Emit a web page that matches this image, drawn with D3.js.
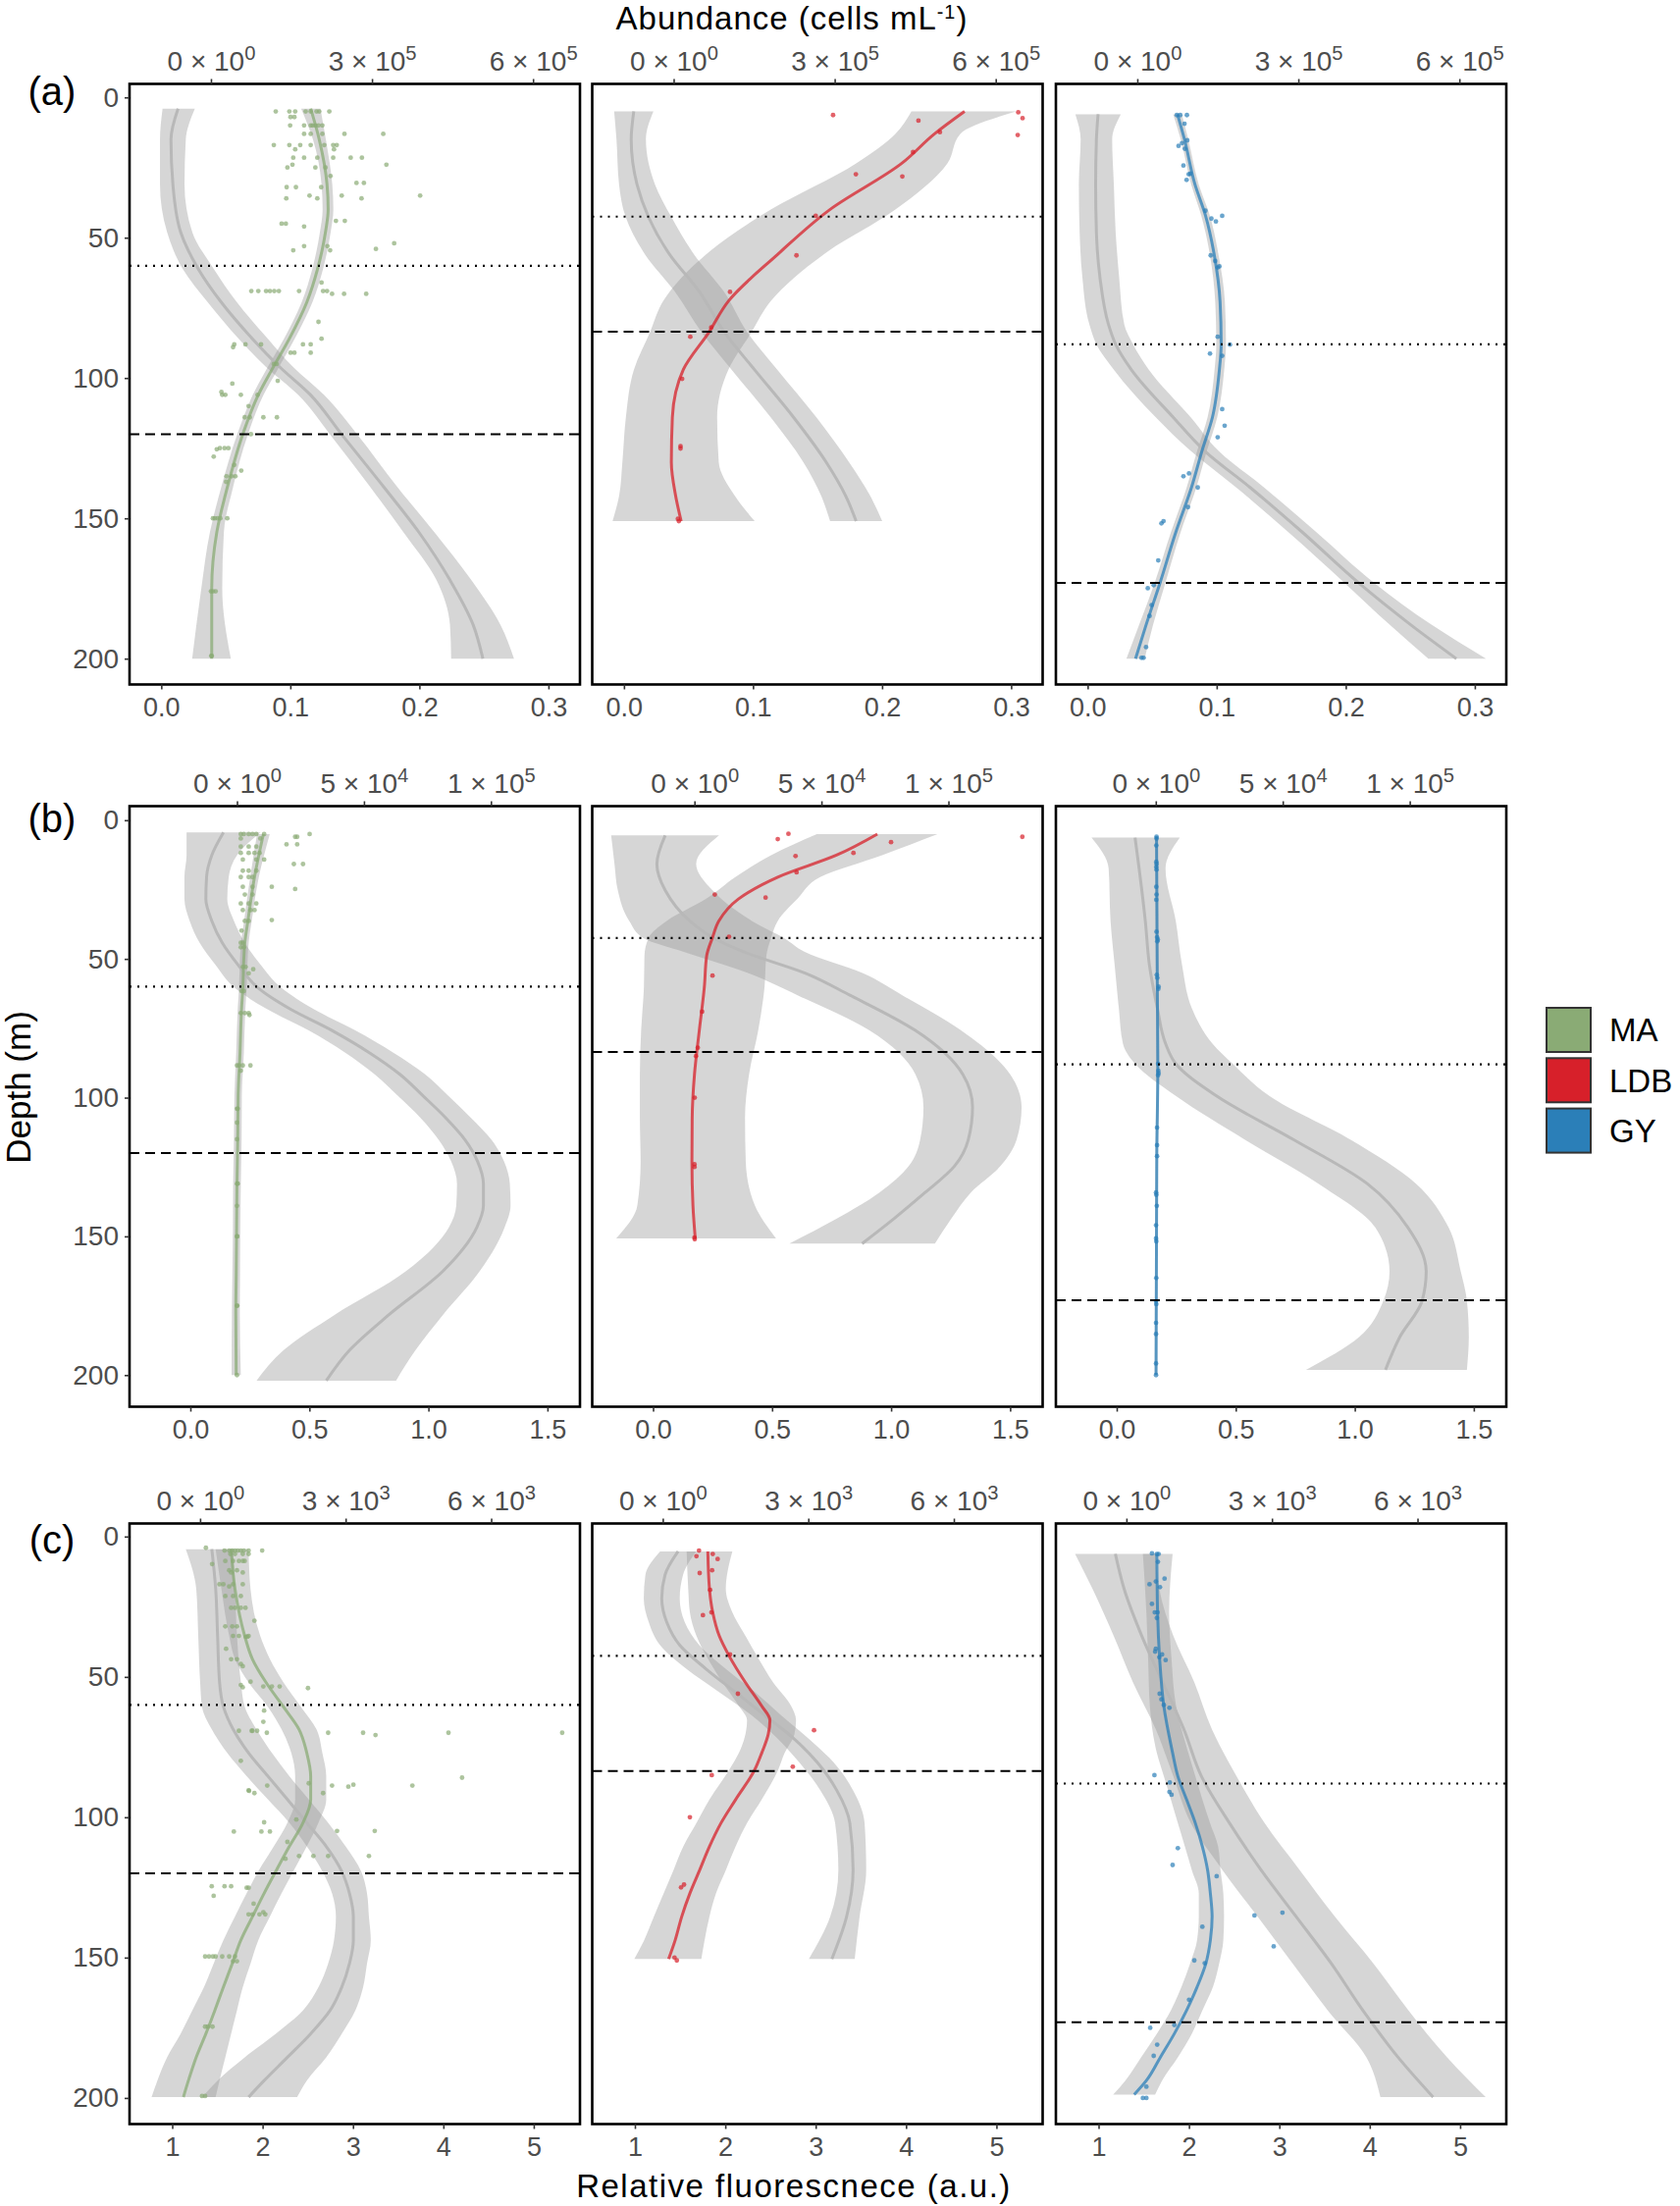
<!DOCTYPE html>
<html>
<head>
<meta charset="utf-8">
<script src="https://cdn.jsdelivr.net/npm/d3@7"></script>
<style>
body { margin: 0; background: #fff; }
svg text { font-family: "Liberation Sans", Arial, Helvetica, sans-serif; }
</style>
</head>
<body>
<svg id="fig" width="1712" height="2248"></svg>
<script>
// sites (columns) and their colours
var sites = ["MA", "LDB", "GY"];
var siteColor = { MA: "#8aab75", LDB: "#d7202a", GY: "#2b7fb8" };
var rowLabels = ["(a)", "(b)", "(c)"];

// horizontal reference depths (m) per site
var dottedDepth = { MA: 60, LDB: 42.5, GY: 88 };
var dashedDepth = { MA: 120, LDB: 83.5, GY: 173 };

// axis ticks per row
var depthTicks = [0, 50, 100, 150, 200];
var flTicks = [[0, 0.1, 0.2, 0.3], [0, 0.5, 1, 1.5], [1, 2, 3, 4, 5]];
var abTicks = [[0, 3e5, 6e5], [0, 5e4, 1e5], [0, 3e3, 6e3]];

// axis limits (as plotted): depth and fluorescence per row, abundance per row and column
var depthLim = [[-4.8, 209.2], [-5.06, 211.4], [-4.65, 209.3]];
var flLim = [[-0.0246, 0.3244], [-0.2556, 1.6365], [0.5277, 5.511]];
var abLim = [
  [[-151700, 687400], [-151700, 687400], [-151700, 687400]],
  [[-42311, 135046], [-40263, 137094], [-39335, 138022]],
  [[-1454, 7830], [-1454, 7830], [-1454, 7830]]
];

// smooths: [depth, lower, fit, upper]; fl = relative fluorescence, ab = abundance
// points: [depth, abundance]

// ---- row (a) ----
var aMA_fl = [[4,0.001,0.013,0.026],[15,-0.001,0.0075,0.019],[31,-0.001,0.009,0.018],[48,0.0045,0.015,0.024],
  [61,0.0165,0.0285,0.0405],[73,0.036,0.0465,0.0586],[86,0.060,0.0706,0.0826],[96,0.081,0.0916,0.102],
  [106,0.106,0.1156,0.126],[120,0.1306,0.1396,0.1517],[139,0.1622,0.1727,0.1832],[155,0.1877,0.1997,0.2117],
  [172,0.2132,0.2237,0.2402],[188,0.2237,0.2417,0.2628],[200,0.2246,0.2492,0.2733]];
var aMA_ab = [[4,168e3,185.8e3,204e3],[15,190e3,201.7e3,214e3],[31,206e3,216.2e3,226e3],[40,208e3,218.3e3,228e3],
  [48,203e3,213.3e3,223e3],[61,189e3,198.8e3,209e3],[73,169e3,178.6e3,189e3],[86,136e3,146e3,156e3],
  [97,103e3,113.5e3,124e3],[106,78e3,88.2e3,98e3],[120,49e3,59.3e3,69e3],[139,19e3,30.4e3,41e3],
  [155,-2e3,10.8e3,24e3],[175,-18e3,1.4e3,21e3],[200,-35e3,1.4e3,37e3]];
var aMA_pts = [[5,120.7e3],[5,146e3],[5,156.9e3],[5,176.4e3],[5,185.8e3],[5,196.7e3],[5,201.7e3],[5,220.5e3],
  [7,148.2e3],[7,155.4e3],[10,147.5e3],[10,173.5e3],[10,189.4e3],[10,200.3e3],[10,207.5e3],[10,185.8e3],[10,194.5e3],
  [13,173.5e3],[13,185.8e3],[13,207.5e3],[13,248.7e3],[13,321e3],
  [17,117.1e3],[17,146e3],[17,166.3e3],[17,185.8e3],[17,211.1e3],[17,227.7e3],[17,234.3e3],
  [18.5,156.9e3],[18.5,229.2e3],[21.5,153.3e3],[21.5,173.5e3],[21.5,198.1e3],[21.5,227.7e3],[21.5,260.3e3],[21.5,281.2e3],
  [24,151.8e3],[24,326.8e3],[25,142.4e3],[25,194.5e3],[25,213.3e3],[28,222.7e3],[30.5,271.1e3],[30.5,284.9e3],
  [32,141e3],[32,158.3e3],[32,205.3e3],[35,183.6e3],[35,243.6e3],[35,389.7e3],[36,140.3e3],[36,198.1e3],[36,280.5e3],
  [44,232.8e3],[44,249.4e3],[45,131.6e3],[45,139.5e3],[46,173.5e3],[52,341.3e3],[53,173.5e3],[53,216.9e3],
  [54,307.3e3],[54.5,153.3e3],[54.5,222e3],[66,206e3],
  [69,75.2e3],[69,88.2e3],[69,102.7e3],[69,109.9e3],[69,118e3],[69,126.5e3],[69,164.1e3],[69,208.9e3],[69,216.2e3],
  [70,225.6e3],[70,248e3],[70,289.2e3],[80,200.3e3],[86,206e3],
  [88,43.4e3],[88,64.3e3],[88,93.3e3],[88,171.4e3],[88,185.8e3],[89,41.2e3],[91,148.2e3],[91,155.4e3],[91,185.8e3],
  [95,117.1e3],[95,122.2e3],[101,124.4e3],[102,39.8e3],[105,19.5e3],
  [106,21e3],[106,26.8e3],[106,55.7e3],[106,86.8e3],[110,70.1e3],
  [114,62.9e3],[114,72.3e3],[114,97.6e3],[114,122.9e3],[120,74.5e3],
  [125,16.6e3],[125,25.3e3],[125,32.5e3],[125.4,10.8e3],[128,5.1e3],[131,43.4e3],[133,56.4e3],
  [135,28.9e3],[135,38.3e3],[135,45.5e3],[137,28.2e3],
  [150,3.6e3],[150,7.2e3],[150,12.3e3],[150,17.4e3],[150,30.4e3],[176,0],[176,3.6e3],[176,8.7e3],[199,0.7e3],[199,1.4e3]];

var aLDB_fl = [[5,-0.0076,0.0076,0.0228],[15,-0.0058,0.0056,0.017],[31,-0.0038,0.0101,0.024],[42.6,0.0013,0.019,0.0367],
  [56,0.0164,0.0354,0.0544],[69,0.0391,0.0581,0.0771],[84,0.0606,0.0783,0.096],[97,0.0834,0.1011,0.1188],
  [114,0.1137,0.1314,0.1491],[130,0.139,0.1567,0.1744],[142,0.1528,0.1718,0.1908],[151,0.1597,0.1799,0.2001]];
var aLDB_ab = [[5,443e3,542e3,638e3],[13,413e3,486e3,534e3],[23.5,340e3,425e3,510e3],[40,181e3,291e3,413e3],
  [56,60e3,193.5e3,279e3],[72.6,-19.5e3,102e3,181e3],[83.7,-44e3,65.7e3,145e3],[97,-74e3,18e3,102e3],
  [114,-89e3,-2.4e3,81e3],[130,-95.5e3,-4.3e3,84e3],[142,-101.6e3,3.7e3,114e3],[151,-113.8e3,14e3,151e3]];
var aLDB_pts = [[6.3,297e3],[8.3,456e3],[12.4,496e3],[5.3,642e3],[7.4,650e3],[13.4,641e3],[19.5,446e3],
  [27.4,339.5e3],[28.2,426e3],[42.2,264.7e3],[56.3,228.8e3],[69.3,105e3],[82,70e3],[85.3,31e3],
  [100.3,15.8e3],[124.3,12.8e3],[125.1,12.8e3],[150.2,7.9e3],[151,9.7e3]];

var aGY_fl = [[6,-0.0095,0.0081,0.0257],[15,-0.0054,0.0068,0.019],[31,-0.0068,0.0062,0.0203],[48,-0.0062,0.0068,0.0217],
  [64,-0.0041,0.0095,0.0244],[81,0.0014,0.0162,0.0284],[88,0.0068,0.0217,0.0352],[97,0.0203,0.0338,0.0474],
  [114,0.0528,0.0663,0.0799],[126,0.0799,0.0907,0.1015],[139,0.1151,0.1259,0.1367],[155,0.1557,0.1665,0.1774],
  [173,0.199,0.2099,0.222],[188,0.2342,0.2505,0.2667],[200,0.264,0.2857,0.3087]];
var aGY_ab = [[6,66.8e3,74.8e3,82.8e3],[15,80.9e3,87.9e3,94.9e3],[31,100.4e3,107.4e3,114.4e3],[42,118.9e3,126.9e3,134.9e3],
  [56,135.2e3,143.2e3,151.2e3],[73,145.2e3,154.2e3,163.2e3],[88,147.2e3,156.2e3,165.2e3],[97,143.9e3,152.9e3,161.9e3],
  [114,130.9e3,139.9e3,148.9e3],[126,111.4e3,120.4e3,129.4e3],[139,91.9e3,100.9e3,109.9e3],[155,62.6e3,71.6e3,80.6e3],
  [173,32.3e3,42.3e3,52.3e3],[188,3.3e3,16.3e3,29.3e3],[200,-20.3e3,-3.3e3,13.7e3]];
var aGY_pts = [[6.3,73.5e3],[6.3,80e3],[6.3,92.4e3],[9.4,87.9e3],[17.3,76.8e3],[16.3,83.3e3],[15.3,93.1e3],[18.3,88.5e3],
  [24.3,85.9e3],[27.2,98.9e3],[27.4,95.7e3],[29.4,91.8e3],[40.4,126.9e3],[43.2,138e3],[44.2,146.4e3],[42.2,158.1e3],
  [56.3,136.7e3],[58.3,145.1e3],[60.6,149.7e3],[60.2,152.9e3],[85.3,149.7e3],[88.1,172.5e3],[91.3,135.4e3],[92.1,158.1e3],
  [111.1,158.1e3],[117,162.7e3],[121.1,149.7e3],[135,85.9e3],[134,96.3e3],[139,112.6e3],[146,94.4e3],
  [151.8,44.9e3],[151,48.8e3],[165,39e3],[173.8,30.6e3],[174.9,19.5e3],[180.9,26.7e3],[184.8,22.8e3],
  [195.9,16.3e3],[199.7,7.8e3],[199.7,11.7e3]];

// ---- row (b) ----
var bMA_fl = [[4.4,-0.016,0.139,0.294],[12.6,-0.016,0.090,0.196],[20.5,-0.025,0.068,0.161],[28.4,-0.025,0.065,0.155],
  [36.3,-0.003,0.090,0.183],[44.2,0.039,0.134,0.229],[52,0.104,0.199,0.294],[60.5,0.187,0.285,0.383],
  [67.9,0.318,0.416,0.514],[75.8,0.497,0.595,0.693],[83.7,0.649,0.750,0.851],[91.6,0.774,0.880,0.986],
  [99.4,0.872,0.978,1.084],[107.3,0.967,1.073,1.179],[115.2,1.043,1.154,1.265],[123.1,1.096,1.207,1.318],
  [131,1.12,1.231,1.342],[138.9,1.117,1.231,1.345],[146.8,1.086,1.203,1.32],[162.6,0.905,1.06,1.215],
  [178.4,0.604,0.832,1.06],[191,0.392,0.669,0.946],[202,0.278,0.571,0.864]];
var bMA_ab = [[5,7.9e3,10.4e3,12.9e3],[20.5,5.2e3,6.9e3,8.6e3],[36.3,2.8e3,4.3e3,5.8e3],[44,1.6e3,3.1e3,4.6e3],
  [52,1.1e3,2.6e3,4.1e3],[60.5,0.8e3,2.3e3,3.8e3],[67.9,0.3e3,1.8e3,3.3e3],[83.7,-0.3e3,1.2e3,2.7e3],
  [99.4,-1e3,0.46e3,1.9e3],[115,-1.2e3,0.3e3,1.8e3],[131,-1.5e3,0,1.5e3],[147,-1.6e3,-0.15e3,1.3e3],
  [163,-1.8e3,-0.3e3,1.2e3],[178,-2e3,-0.46e3,1.1e3],[200,-2.1e3,-0.3e3,1.5e3]];
var bMA_pts = [[5,1.5e3],[5,2.7e3],[5,4.6e3],[5,6.1e3],[5,7.6e3],[5,10.7e3],[5,28.6e3],[6,22.9e3],[6,23.7e3],
  [6.6,1.5e3],[6.6,9.2e3],[8.7,19.5e3],[8.7,23.7e3],[9.5,1.5e3],[9.5,4.6e3],[9.5,7.6e3],
  [11.8,1.5e3],[11.8,4.6e3],[11.8,6.9e3],[11.8,8.9e3],[14.2,2.3e3],[14.2,7.6e3],[14.2,10.7e3],[15.8,22.4e3],[15.8,26e3],
  [18.2,2.3e3],[18.2,4.6e3],[18.2,7.6e3],[20.5,1.5e3],[20.5,4.6e3],[20.5,6.1e3],[24,2.3e3],[24,6.1e3],[24,13.7e3],
  [24.8,22.9e3],[26.8,3.1e3],[26.8,6.1e3],[30,1.5e3],[30,4.6e3],[30,7.6e3],[32.4,2.3e3],[32.4,5.3e3],[32.4,6.9e3],
  [36,13.7e3],[36.3,3.1e3],[36.3,4.6e3],[39.8,1.8e3],[44.2,1.5e3],[44.2,2.3e3],[45.8,1.5e3],[45.8,2.7e3],
  [52.9,2.3e3],[52.9,3.4e3],[53.7,6.4e3],[55.2,4.6e3],[61.6,1.8e3],[61.6,2.7e3],
  [69.5,1.5e3],[69.5,3.1e3],[69.5,4.6e3],[70.2,4.9e3],[88.4,0],[88.4,0.8e3],[88.4,2.3e3],[88.4,5.3e3],[90.3,1.5e3],
  [104,0],[104,0.3e3],[109,0],[115,0],[131,0],[131,0.3e3],[139,0],[150,0],[150,0.1e3],[175,0],[175,0.1e3],[200,0]];

var bLDB_fl = [[5.5,-0.176,0.051,0.277],[15.8,-0.162,0.016,0.181],[25.3,-0.148,0.051,0.25],[36.3,-0.1,0.154,0.415],
  [42.6,-0.038,0.257,0.552],[47.4,0.126,0.38,0.635],[55.2,0.401,0.641,0.882],[63.1,0.607,0.827,1.047],
  [75.8,0.909,1.102,1.294],[91.6,1.102,1.301,1.5],[103.4,1.136,1.342,1.548],[115.2,1.122,1.324,1.527],
  [124.7,1.074,1.266,1.459],[134.2,0.951,1.143,1.335],[143.6,0.772,1.012,1.253],[152.6,0.573,0.878,1.184]];
var bLDB_ab = [[5,48.2e3,72e3,95.7e3],[12.6,30.2e3,55.9e3,73.9e3],[20.5,16.1e3,32.8e3,49.5e3],[28.4,4.5e3,17.3e3,40.5e3],
  [36.3,-10.9e3,9.6e3,32.8e3],[42.3,-18e3,7.1e3,30.2e3],[48.9,-19.7e3,4.8e3,28.3e3],[60,-19.9e3,3.9e3,27.6e3],
  [75.8,-21e3,1.9e3,25.1e3],[91.6,-21.5e3,0,21.5e3],[107.3,-21.5e3,-0.9e3,19.9e3],[123.1,-21.2e3,-1e3,20.2e3],
  [138.9,-22.5e3,-0.6e3,23.8e3],[150.7,-30.8e3,0.3e3,32.1e3]];
var bLDB_pts = [[6.8,32.8e3],[4.9,37e3],[12.9,39.8e3],[18.8,40.2e3],[11.8,62.6e3],[7.9,77.4e3],[6,129.1e3],
  [26.8,8e3],[27.9,28e3],[42,13.6e3],[56,7.1e3],[69,3e3],[82,1.3e3],[85,0.6e3],[100,0.1e3],[124,0],[125,0],
  [150.4,0],[151,0.1e3]];

var bGY_fl = [[6.3,-0.106,0.077,0.265],[17.4,-0.034,0.094,0.205],[36.3,-0.026,0.12,0.248],[52,-0.009,0.137,0.274],
  [67.9,0.009,0.171,0.316],[80.5,0.026,0.205,0.402],[87.8,0.077,0.248,0.487],[99.4,0.248,0.419,0.641],
  [115.2,0.539,0.744,0.983],[131,0.847,1.052,1.257],[146.8,1.086,1.223,1.394],[162.6,1.146,1.3,1.445],
  [173.2,1.12,1.283,1.471],[186.3,1.018,1.189,1.479],[198.1,0.795,1.129,1.471]];
var bGY_ab = [[6,-0.2e3,0.3e3,0.8e3],[60,0.1e3,0.6e3,1.1e3],[90,0.3e3,0.8e3,1.3e3],[120,-0.1e3,0.4e3,0.9e3],
  [200,-0.4e3,0.1e3,0.6e3]];
var bGY_pts = [[6,0.3e3],[6.6,0.3e3],[9.1,0.2e3],[15,0.2e3],[15.8,0.3e3],[16.9,0.2e3],[17.8,0.3e3],[24,0.2e3],
  [26.8,0.3e3],[28.7,0.2e3],[40.2,0.3e3],[42.2,0.5e3],[43,0.8e3],[43.7,0.6e3],[55.7,0.4e3],[56.8,0.6e3],
  [60,1.1e3],[60.8,1e3],[87.8,0.9e3],[90.3,1e3],[91.2,1.1e3],[91.9,0.9e3],[110.8,0.5e3],[117.1,0.5e3],
  [121.1,0.5e3],[134.2,0.1e3],[135,0.2e3],[139,0.4e3],[146,0.1e3],[150.7,0.1e3],[151.8,0.2e3],[165,0.2e3],
  [173.3,0.1e3],[174.4,0.2e3],[181.2,0.1e3],[185.2,0.1e3],[195.8,0.1e3],[200,0.1e3]];

// ---- row (c) ----
var cMA_fl = [[4.5,1.15,1.438,1.674],[18.7,1.266,1.481,1.695],[35.4,1.288,1.502,1.717],[52,1.309,1.524,1.76],
  [60.7,1.33,1.567,1.803],[68.7,1.438,1.674,1.931],[77.1,1.609,1.845,2.103],[85.4,1.824,2.06,2.296],
  [93.7,2.06,2.275,2.511],[102,2.296,2.489,2.725],[110.4,2.489,2.704,2.918],[119.3,2.661,2.876,3.09],
  [127.1,2.768,2.961,3.155],[135.4,2.811,3.004,3.176],[143.8,2.79,3.004,3.197],[152.1,2.725,2.961,3.155],
  [160.5,2.618,2.876,3.112],[168.8,2.446,2.747,3.026],[177.1,2.146,2.532,2.876],[185.5,1.803,2.275,2.704],
  [193.8,1.502,2.017,2.489],[199.7,1.33,1.845,2.382]];
var cMA_ab = [[4.5,320,640,1000],[18.7,440,720,1040],[35.4,600,920,1240],[43.7,720,1080,1440],[52,1000,1360,1720],
  [60.7,1400,1720,2080],[68.7,1680,2040,2400],[77.1,1880,2200,2520],[85.4,1960,2280,2600],[93.7,1960,2280,2600],
  [102,1800,2120,2440],[110.4,1520,1840,2200],[119.3,1200,1560,1920],[127.1,960,1320,1680],[135.4,720,1080,1440],
  [143.8,480,840,1200],[152.1,280,664,1040],[160.5,80,480,880],[168.8,-160,304,760],[177.1,-400,120,640],
  [185.5,-680,-80,520],[193.8,-880,-240,400],[199.7,-1000,-344,320]];
var cMA_pts = [[4,120],[5,504],[5,600],[5,664],[5,720],[5,776],[5,840],[5,904],[5,1000],[5,1280],
  [6.2,624],[6.2,720],[6.2,880],[6.2,1000],[8.7,520],[8.7,680],[8.7,800],[8.7,880],[8.7,920],[9.8,248],
  [12,600],[12,760],[12.8,640],[12.8,880],[17,400],[17,480],[17,680],[17,880],[17.8,600],
  [21.2,520],[21.2,680],[21.2,840],[25.4,640],[25.4,720],[25.4,840],[25.4,936],[30,1120],
  [32,520],[32,664],[32,760],[35.4,680],[35.4,800],[35.4,1000],[35.7,944],[35.7,976],[40,536],
  [43.7,640],[43.7,760],[45.4,840],[46.2,880],[51.7,1040],[52.9,840],[53.4,1304],[53.4,1480],[53.4,1640],
  [53.7,880],[54,2224],[62,1320],[66,1304],[69.2,800],[69.2,1064],[69.2,1080],[69.2,1176],
  [69.9,1376],[69.9,2640],[69.9,3360],[70.7,3616],[69.9,5120],[69.9,7464],[79.9,840],[85.9,5400],
  [87.9,2240],[88.7,1384],[88.7,2720],[88.7,4376],[88.4,3160],[89.1,3056],[90.4,1000],[90.6,1010],
  [91.4,2536],[91.4,1120],[100.8,1984],[101.8,1320],[105.1,1264],[105.1,1440],[105.1,696],[104.9,2824],[104.9,3600],
  [108.8,1800],[113.8,2040],[113.8,2336],[113.8,2640],[113.8,3480],[114.8,1760],
  [124.6,240],[124.6,504],[124.6,640],[125.1,960],[125.1,1000],[128,280],[130.8,1104],[133.8,1304],
  [134.6,1000],[134.6,1080],[134.6,1224],[134.6,1344],
  [149.6,104],[149.6,184],[149.6,264],[149.6,320],[149.6,456],[149.6,600],[149.6,720],[151.3,680],[151.3,760],
  [174.6,104],[174.6,160],[174.6,256],[199.3,40],[199.3,104]];

var cLDB_fl = [[5.3,1.279,1.478,1.677],[13.7,1.116,1.333,1.532],[22,1.098,1.297,1.496],[30.4,1.152,1.351,1.55],
  [38.7,1.279,1.496,1.713],[47.1,1.568,1.785,2.003],[55.4,1.93,2.111,2.328],[63.7,2.292,2.437,2.618],
  [72.1,2.582,2.763,2.925],[80.4,2.817,3.016,3.197],[90.4,3.052,3.233,3.414],[102.1,3.215,3.378,3.541],
  [118.8,3.251,3.414,3.559],[135.4,3.161,3.342,3.486],[150.5,2.925,3.179,3.432]];
var cLDB_ab = [[5.3,492,929,1434],[18.7,525,963,1300],[27,559,1030,1434],[35.4,694,1165,1704],[42.5,896,1367,1939],
  [52,1232,1704,2276],[60.4,1569,2040,2646],[65.4,1737,2209,2747],[70.4,1704,2175,2714],[77.1,1569,2040,2512],
  [83.2,1367,1892,2377],[93.7,963,1502,2040],[102.1,694,1199,1737],[110.4,424,963,1502],[118.8,222,761,1300],
  [127.1,20,559,1098],[135.4,-182,391,963],[143.8,-384,256,862],[150.5,-586,121,795]];
var cLDB_pts = [[5,747],[7,694],[6.2,1030],[8,1131],[13,761],[12,1017],[19,976],[28,828],[27,1003],
  [42,1387],[56,1549],[69,3118],[82,2680],[85,1010],[100,559],[125,377],[124,438],[150,242],[151,290]];

var cGY_fl = [[6.2,0.74,1.186,1.633],[18.7,0.934,1.283,1.672],[35.4,1.167,1.478,1.827],[52,1.381,1.711,2.06],
  [68.7,1.633,1.944,2.254],[85.4,1.827,2.138,2.526],[102.1,2.021,2.449,2.837],[118.8,2.371,2.798,3.225],
  [135.4,2.759,3.186,3.614],[152.1,3.148,3.575,4.041],[168.8,3.536,3.924,4.429],[185.5,3.963,4.313,4.856],
  [199.7,4.118,4.701,5.283]];
var cGY_ab = [[6.2,339,627,952],[27,411,642,880],[43.7,447,685,930],[60.4,483,771,1024],[77.1,627,952,1276],
  [85.4,771,1060,1420],[93.7,916,1240,1565],[102.1,1060,1420,1723],[110.4,1204,1565,1889],[118.8,1348,1673,1939],
  [127.1,1492,1730,1997],[135.4,1492,1766,2012],[143.8,1456,1730,1997],[152.1,1312,1637,1911],[160.5,1132,1456,1781],
  [168.8,916,1240,1565],[177.1,627,988,1348],[185.5,303,699,1060],[193.8,-22,411,735],[198.8,-274,159,591]];
var cGY_pts = [[6,526],[6.2,627],[6.2,663],[9,649],[15,786],[17,476],[16,606],[18,692],[24,526],[27,584],[27,642],
  [29,627],[40,606],[41,591],[42,735],[43,678],[44,808],[56,685],[58,721],[60,771],[61,887],[85,577],[87.6,894],
  [91,887],[92,930],[111,1060],[117,952],[121,1860],[139,1565],[135,2639],[134,3216],[146,3035],[151,1399],
  [152,1615],[165,1291],[174,988],[175,490],[181,634],[185,562],[196,411],[200,339],[200,411]];

var panels = [
  { row: 0, site: "MA", fl: aMA_fl, ab: aMA_ab, pts: aMA_pts },
  { row: 0, site: "LDB", fl: aLDB_fl, ab: aLDB_ab, pts: aLDB_pts },
  { row: 0, site: "GY", fl: aGY_fl, ab: aGY_ab, pts: aGY_pts },
  { row: 1, site: "MA", fl: bMA_fl, ab: bMA_ab, pts: bMA_pts },
  { row: 1, site: "LDB", fl: bLDB_fl, ab: bLDB_ab, pts: bLDB_pts },
  { row: 1, site: "GY", fl: bGY_fl, ab: bGY_ab, pts: bGY_pts },
  { row: 2, site: "MA", fl: cMA_fl, ab: cMA_ab, pts: cMA_pts },
  { row: 2, site: "LDB", fl: cLDB_fl, ab: cLDB_ab, pts: cLDB_pts },
  { row: 2, site: "GY", fl: cGY_fl, ab: cGY_ab, pts: cGY_pts }
];

// layout
var svg = d3.select("#fig");
var colX = [132, 603.5, 1076], rowY = [85.5, 821.5, 1552.5];
var panelW = 459, panelH = 612;
var flFormat = [d3.format(".1f"), d3.format(".1f"), d3.format("d")];
var tickCol = "#333333", labCol = "#4d4d4d";

function styleAxis(ax, size) {
  ax.select(".domain").remove();
  ax.selectAll(".tick line").attr("stroke", tickCol).attr("stroke-width", 1.6);
  ax.selectAll(".tick text").attr("fill", labCol).attr("font-size", size)
    .attr("font-family", "'Liberation Sans', Arial, sans-serif");
}

panels.forEach(function(p, i) {
  var col = sites.indexOf(p.site);
  var g = svg.append("g").attr("transform", "translate(" + colX[col] + "," + rowY[p.row] + ")");

  var y = d3.scaleLinear().domain(depthLim[p.row]).range([0, panelH]);
  var xFl = d3.scaleLinear().domain(flLim[p.row]).range([0, panelW]);
  var xAb = d3.scaleLinear().domain(abLim[p.row][col]).range([0, panelW]);

  g.append("clipPath").attr("id", "clip" + i)
    .append("rect").attr("width", panelW).attr("height", panelH);
  var plot = g.append("g").attr("clip-path", "url(#clip" + i + ")");

  var band = function(x) {
    return d3.area().curve(d3.curveMonotoneY)
      .y(function(d) { return y(d[0]); })
      .x0(function(d) { return x(d[1]); })
      .x1(function(d) { return x(d[3]); });
  };
  var mid = function(x) {
    return d3.line().curve(d3.curveMonotoneY)
      .y(function(d) { return y(d[0]); })
      .x(function(d) { return x(d[2]); });
  };

  // confidence ribbons
  plot.append("path").datum(p.fl).attr("d", band(xFl)).attr("fill", "#999").attr("fill-opacity", 0.4);
  plot.append("path").datum(p.ab).attr("d", band(xAb)).attr("fill", "#999").attr("fill-opacity", 0.4);

  // fluorescence smooth (grey) and abundance smooth (site colour)
  plot.append("path").datum(p.fl).attr("d", mid(xFl))
    .attr("fill", "none").attr("stroke", "#b8b8b8").attr("stroke-width", 3);
  plot.append("path").datum(p.ab).attr("d", mid(xAb))
    .attr("fill", "none").attr("stroke", siteColor[p.site]).attr("stroke-opacity", 0.75).attr("stroke-width", 3);

  plot.selectAll(".pt").data(p.pts).enter().append("circle")
    .attr("class", "pt")
    .attr("cx", function(d) { return xAb(d[1]); })
    .attr("cy", function(d) { return y(d[0]); })
    .attr("r", 2.4)
    .attr("fill", siteColor[p.site]).attr("fill-opacity", 0.7);

  // reference depths
  g.append("line").attr("x1", 0).attr("x2", panelW)
    .attr("y1", y(dottedDepth[p.site])).attr("y2", y(dottedDepth[p.site]))
    .attr("stroke", "#000").attr("stroke-width", 2.2).attr("stroke-dasharray", "2,6");
  g.append("line").attr("x1", 0).attr("x2", panelW)
    .attr("y1", y(dashedDepth[p.site])).attr("y2", y(dashedDepth[p.site]))
    .attr("stroke", "#000").attr("stroke-width", 2).attr("stroke-dasharray", "10,6");

  // frame
  g.append("rect").attr("width", panelW).attr("height", panelH)
    .attr("fill", "none").attr("stroke", "#000").attr("stroke-width", 2.6);

  // bottom axis: relative fluorescence
  var bx = g.append("g").attr("transform", "translate(0," + panelH + ")")
    .call(d3.axisBottom(xFl).tickValues(flTicks[p.row]).tickFormat(flFormat[p.row]).tickSize(5).tickPadding(8));
  styleAxis(bx, 27);

  // top axis: abundance in a x 10^b form
  var tx = g.append("g")
    .call(d3.axisTop(xAb).tickValues(abTicks[p.row]).tickSize(5).tickPadding(9));
  styleAxis(tx, 28);
  tx.selectAll(".tick text").each(function(v) {
    var e = v === 0 ? 0 : Math.floor(Math.log10(v));
    var m = Math.round(v / Math.pow(10, e));
    var t = d3.select(this).text(null);
    t.append("tspan").text(m + " \u00d7 10");
    t.append("tspan").attr("dy", "-0.5em").attr("font-size", "0.72em").text(e);
  });

  // depth axis only on the first column
  if (col === 0) {
    var ly = g.append("g")
      .call(d3.axisLeft(y).tickValues(depthTicks).tickSize(5).tickPadding(6));
    styleAxis(ly, 28);
    svg.append("text").attr("x", 53).attr("y", [107, 848, 1583][p.row])
      .attr("text-anchor", "middle").attr("font-size", 40).attr("fill", "#000")
      .text(rowLabels[p.row]);
  }
});

// axis titles
var topTitle = svg.append("text").attr("x", 807).attr("y", 30).attr("text-anchor", "middle")
  .attr("font-size", 33).attr("letter-spacing", 1).attr("fill", "#000");
topTitle.append("tspan").text("Abundance (cells mL");
topTitle.append("tspan").attr("dy", "-0.55em").attr("font-size", "0.6em").text("-1");
topTitle.append("tspan").attr("dy", "0.33em").text(")");

svg.append("text").attr("x", 809).attr("y", 2239).attr("text-anchor", "middle")
  .attr("font-size", 33).attr("letter-spacing", 1.5).attr("fill", "#000")
  .text("Relative fluorescnece (a.u.)");

svg.append("text").attr("transform", "translate(31,1108) rotate(-90)")
  .attr("text-anchor", "middle").attr("font-size", 35).attr("fill", "#000")
  .text("Depth (m)");

// legend
var legend = svg.append("g").attr("transform", "translate(1576,1027)");
sites.forEach(function(s, i) {
  legend.append("rect").attr("x", 0).attr("y", i * 51.3).attr("width", 45).attr("height", 45)
    .attr("fill", siteColor[s]).attr("stroke", "#333").attr("stroke-width", 2);
  legend.append("text").attr("x", 64).attr("y", i * 51.3 + 22.5).attr("dy", "0.36em")
    .attr("font-size", 33).attr("fill", "#000").text(s);
});
</script>
</body>
</html>
